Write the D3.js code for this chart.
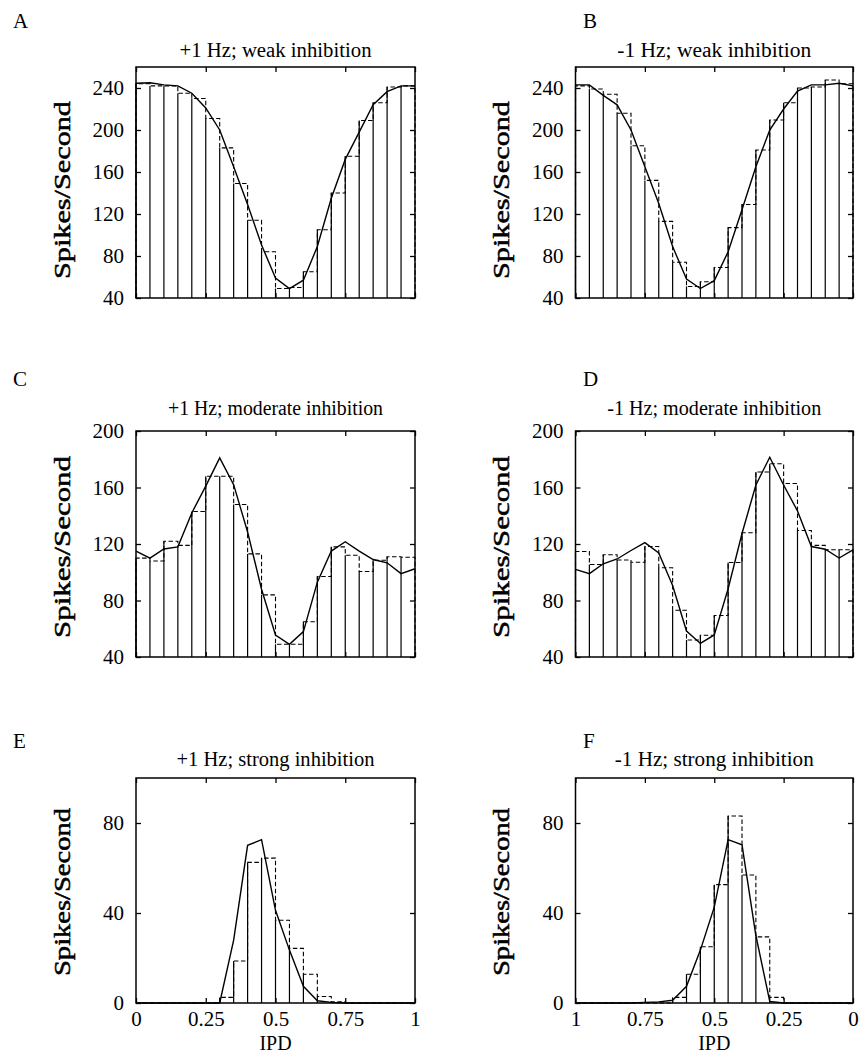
<!DOCTYPE html>
<html><head><meta charset="utf-8">
<script src="https://cdn.jsdelivr.net/npm/d3@7"></script>
<style>
html,body{margin:0;padding:0;background:#fff;}
svg{display:block;}
text{font-family:"Liberation Serif","Times New Roman",serif;fill:#000;}
</style></head>
<body>
<svg id="chart" width="859" height="1053"></svg>
<script>
// ---- data (IPD-ascending order; 20 bins of width 0.05, curve sampled at 21 bin edges) ----
const binEdges = [0,0.05,0.1,0.15,0.2,0.25,0.3,0.35,0.4,0.45,0.5,0.55,0.6,0.65,0.7,0.75,0.8,0.85,0.9,0.95,1];

const barsA  = [244,242,242,235,230,211,183,149,114,84,49,50,65,105,140,175,209,226,241,242];
const curveA = [244.5,245,243,242,235,221,200,165,129,90.5,59,49,57,89,135,172,198,224,236.5,242,242];

const barsB  = [244,247.6,241,240,226,209.5,181,129,107,69,55.5,51,74,113,152,185,216,234,239,242];
const curveB = [242,244.5,243,243,237,220,200,165,124,84,56.5,49,58,89,130,165,200,224,233,243,243];

const barsC  = [110,108,122,119,143,168,168,148,113,84,49,49,65,97,118,112,100.5,108.5,111,110.6];
const curveC = [115,110,116.5,118,142,161,181,162,128.5,88,55.6,49,58,93,115,121.6,115,109,106.7,99,102.5];

const barsD  = [115.9,115.9,119,129.6,162.8,176.8,171,128,106.9,69.4,55.4,52,73.1,103.2,118.2,107.1,108.7,112.4,105.5,114.7];
const curveD = [115.9,110.1,116.3,118.2,143.4,161.8,181.4,161.8,127.4,88.3,55.6,49.6,58.4,90.6,113.6,121,115.4,109.4,106,99,102];

const barsE  = [0,0,0,0,0,0,2.5,18.7,62.5,64.4,36.8,24.3,12.8,2.9,0.5,0,0,0,0,0];
const curveE = [0,0,0,0,0,0,0,27.9,70.1,72.6,41.2,23.5,7.4,1,0.3,0,0,0,0,0,0];

const barsF  = [0,0,0,0,0,2.5,29.4,56.9,83.1,52.6,25,12.8,2.5,0,0,0,0,0,0,0];
const curveF = [0,0,0,0,0,0,0.7,30,70.3,72.6,42.6,23.5,7.4,1.2,0.5,0.3,0,0,0,0,0];

const yTicksAB = [40,80,120,160,200,240];
const yTicksCD = [40,80,120,160,200];
const yTicksEF = [0,40,80];
const xTicks = [0,0.25,0.5,0.75,1];
const xTickLabels = ["0","0.25","0.5","0.75","1"];

const panels = [
  {letter:"A", title:"+1 Hz; weak inhibition",      titleW:192, bars:barsA, curve:curveA, yDomain:[40,260], yTicks:yTicksAB, reversed:false, col:0, row:0, xLabels:false},
  {letter:"B", title:"-1 Hz; weak inhibition",      titleW:194, bars:barsB, curve:curveB, yDomain:[40,260], yTicks:yTicksAB, reversed:true,  col:1, row:0, xLabels:false},
  {letter:"C", title:"+1 Hz; moderate inhibition",  titleW:215, bars:barsC, curve:curveC, yDomain:[40,200], yTicks:yTicksCD, reversed:false, col:0, row:1, xLabels:false},
  {letter:"D", title:"-1 Hz; moderate inhibition",  titleW:214, bars:barsD, curve:curveD, yDomain:[40,200], yTicks:yTicksCD, reversed:true,  col:1, row:1, xLabels:false},
  {letter:"E", title:"+1 Hz; strong inhibition",    titleW:198, bars:barsE, curve:curveE, yDomain:[0,100],  yTicks:yTicksEF, reversed:false, col:0, row:2, xLabels:true},
  {letter:"F", title:"-1 Hz; strong inhibition",    titleW:199, bars:barsF, curve:curveF, yDomain:[0,100],  yTicks:yTicksEF, reversed:true,  col:1, row:2, xLabels:true}
];

// ---- layout ----
const colX = [[136,415],[575.5,853]];
const rowY = [[298,67],[657,431],[1003,778]];
const letterX = [13,583];
const letterY = [28,386,748];
const titleY = [57,415,766];
const ylabCenter = [190,547,892];
const ylabLen = [178,182,168];
const ylabX = [70,509];

const svg = d3.select("#chart");

panels.forEach(p => {
  const [x0,x1] = colX[p.col];
  const [yb,yt] = rowY[p.row];
  const x = d3.scaleLinear().domain(p.reversed ? [1,0] : [0,1]).range([x0,x1]);
  const y = d3.scaleLinear().domain(p.yDomain).range([yb,yt]);
  const g = svg.append("g");

  const bins = p.bars.map((v,i)=>{
    const a = x(binEdges[i]), b = x(binEdges[i+1]);
    return {l:Math.min(a,b), r:Math.max(a,b), v};
  }).sort((m,n)=>m.l-n.l);

  g.selectAll("line.imp").data(bins.filter(d=>d.v>p.yDomain[0])).enter().append("line")
    .attr("x1",d=>d.l).attr("x2",d=>d.l)
    .attr("y1",y(p.yDomain[0])).attr("y2",d=>y(d.v))
    .attr("stroke","#000").attr("stroke-width",1.2);

  let path = d3.path();
  path.moveTo(bins[0].l, y(p.yDomain[0]));
  bins.forEach(d=>{ path.lineTo(d.l, y(d.v)); path.lineTo(d.r, y(d.v)); });
  path.lineTo(bins[bins.length-1].r, y(p.yDomain[0]));
  g.append("path").attr("d",path.toString()).attr("fill","none")
    .attr("stroke","#000").attr("stroke-width",1.1).attr("stroke-dasharray","4.5,2.5");

  const line = d3.line().x((d,i)=>x(binEdges[i])).y(d=>y(d));
  g.append("path").attr("d",line(p.curve)).attr("fill","none")
    .attr("stroke","#000").attr("stroke-width",1.4).attr("stroke-linejoin","miter");

  const fs = "21px";
  const ax = g.append("g").attr("transform",`translate(${x0},0)`)
    .call(d3.axisLeft(y).tickValues(p.yTicks).tickSize(-5).tickPadding(12).tickFormat(d3.format("d")));
  ax.select(".domain").remove();
  ax.selectAll("text").style("font-size",fs).style("font-family","Liberation Serif, serif");
  ax.selectAll("line").attr("stroke-width",1.3);

  const axr = g.append("g").attr("transform",`translate(${x1},0)`)
    .call(d3.axisRight(y).tickValues(p.yTicks).tickSize(-5).tickFormat(""));
  axr.select(".domain").remove();
  axr.selectAll("line").attr("stroke-width",1.3);

  const axt = g.append("g").attr("transform",`translate(0,${yt})`)
    .call(d3.axisTop(x).tickValues(xTicks).tickSize(-5).tickFormat(""));
  axt.select(".domain").remove();
  axt.selectAll("line").attr("stroke-width",1.3);

  const axb = g.append("g").attr("transform",`translate(0,${yb})`)
    .call(d3.axisBottom(x).tickValues(xTicks).tickSize(-5).tickPadding(8)
      .tickFormat(p.xLabels ? (d)=>xTickLabels[xTicks.indexOf(d)] : ""));
  axb.select(".domain").remove();
  axb.selectAll("text").style("font-size",fs).style("font-family","Liberation Serif, serif");
  axb.selectAll("line").attr("stroke-width",1.3);

  g.append("rect").attr("x",x0).attr("y",yt).attr("width",x1-x0).attr("height",yb-yt)
    .attr("fill","none").attr("stroke","#000").attr("stroke-width",1.5);

  g.append("text").attr("x",letterX[p.col]).attr("y",letterY[p.row])
    .style("font-size","21px").text(p.letter);
  g.append("text").attr("x",(x0+x1)/2).attr("y",titleY[p.row]).attr("text-anchor","middle")
    .attr("textLength",p.titleW).attr("lengthAdjust","spacingAndGlyphs")
    .style("font-size","20px").text(p.title);
  g.append("text").attr("transform",`translate(${ylabX[p.col]},${ylabCenter[p.row]}) rotate(-90)`)
    .attr("text-anchor","middle").attr("textLength",ylabLen[p.row]).attr("lengthAdjust","spacingAndGlyphs")
    .style("font-size","23px").style("stroke","#000").style("stroke-width","0.5px")
    .text("Spikes/Second");
  if (p.xLabels) {
    g.append("text").attr("x",(x0+x1)/2).attr("y",1050).attr("text-anchor","middle")
      .style("font-size","20px").text("IPD");
  }
});
</script>
</body></html>
